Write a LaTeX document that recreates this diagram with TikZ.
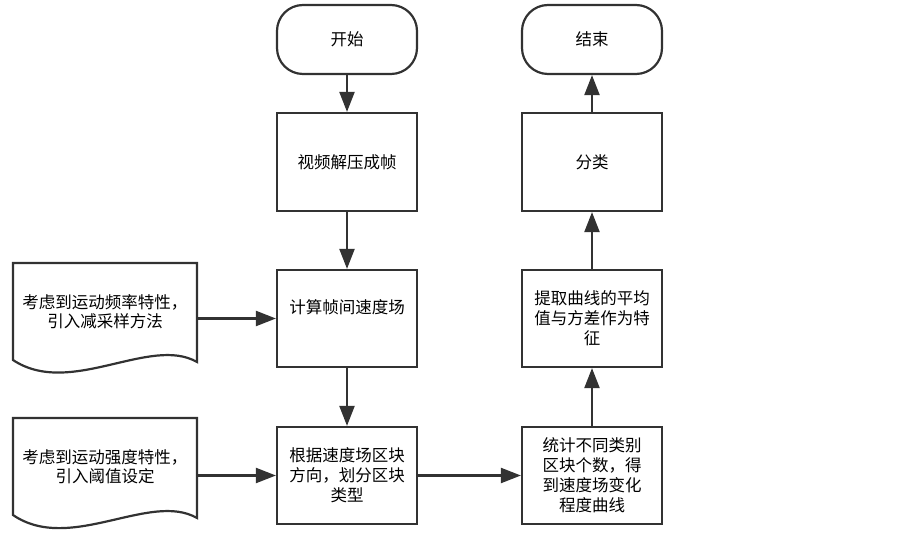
\documentclass[tikz,border=0pt]{standalone}
\usepackage{fontspec}
\setmainfont{Noto Sans CJK SC}
\usetikzlibrary{arrows.meta}
\definecolor{lc}{RGB}{50,50,50}
\begin{document}
\begin{tikzpicture}[x=1pt,y=-1pt]
\tikzset{
  base/.style={draw=lc, line width=2.2pt, font=\fontsize{16.5}{20}\selectfont, align=center, inner sep=0pt, text=black},
  proc/.style={base, rectangle, minimum width=140pt, minimum height=97pt},
  term/.style={base, rounded corners=26pt, minimum width=140pt, minimum height=69pt},
  doctext/.style={font=\fontsize{16.5}{19}\selectfont, align=center, inner sep=0pt, minimum width=184pt, minimum height=97pt},
  docshape/.style={draw=lc, line width=2.2pt, line join=miter},
  arr/.style={draw=lc, line width=2.2pt, -{Triangle[length=20pt,width=15pt]}},
}
\useasboundingbox (0,0) rectangle (903,537);

% left column
\node[term] (start) at (347,39.5) {开始};
\node[proc, minimum height=98pt] (b1) at (347,162) {视频解压成帧};
\node[proc, label={[font=\fontsize{16.5}{20}\selectfont, yshift=11.5pt]center:计算帧间速度场}] (b2) at (347,318.5) {};
\node[proc] (b3) at (347,475.5) {根据速度场区块\\方向，划分区块\\类型};

% right column
\node[term] (end) at (592,39.5) {结束};
\node[proc, minimum height=98pt] (r1) at (592,162) {分类};
\node[proc] (r2) at (592,318.5) {提取曲线的平均\\值与方差作为特\\征};
\node[proc] (r3) at (592,475.5) {统计不同类别\\区块个数，得\\到速度场变化\\程度曲线};

% documents
\node[doctext] (d1) at (105,311.5) {考虑到运动频率特性，\\引入减采样方法};
\draw[docshape] (13,360) -- (13,263) -- (197,263) -- (197,362)
  .. controls (150,335) and (70,398) .. (13,360) -- cycle;
\node[doctext] (d2) at (105,466.5) {考虑到运动强度特性，\\引入阈值设定};
\draw[docshape] (13,515) -- (13,418) -- (197,418) -- (197,518)
  .. controls (150,491) and (70,554) .. (13,515) -- cycle;

% connectors
\draw[arr] (start) -- (b1);
\draw[arr] (b1) -- (b2);
\draw[arr] (b2) -- (b3);
\draw[arr] (b2.west -| d1.east) -- (b2.west);
\draw[arr] (b3.west -| d2.east) -- (b3.west);
\draw[arr] (b3) -- (r3);
\draw[arr] (r3) -- (r2);
\draw[arr] (r2) -- (r1);
\draw[arr] (r1) -- (end);
\end{tikzpicture}
\end{document}
